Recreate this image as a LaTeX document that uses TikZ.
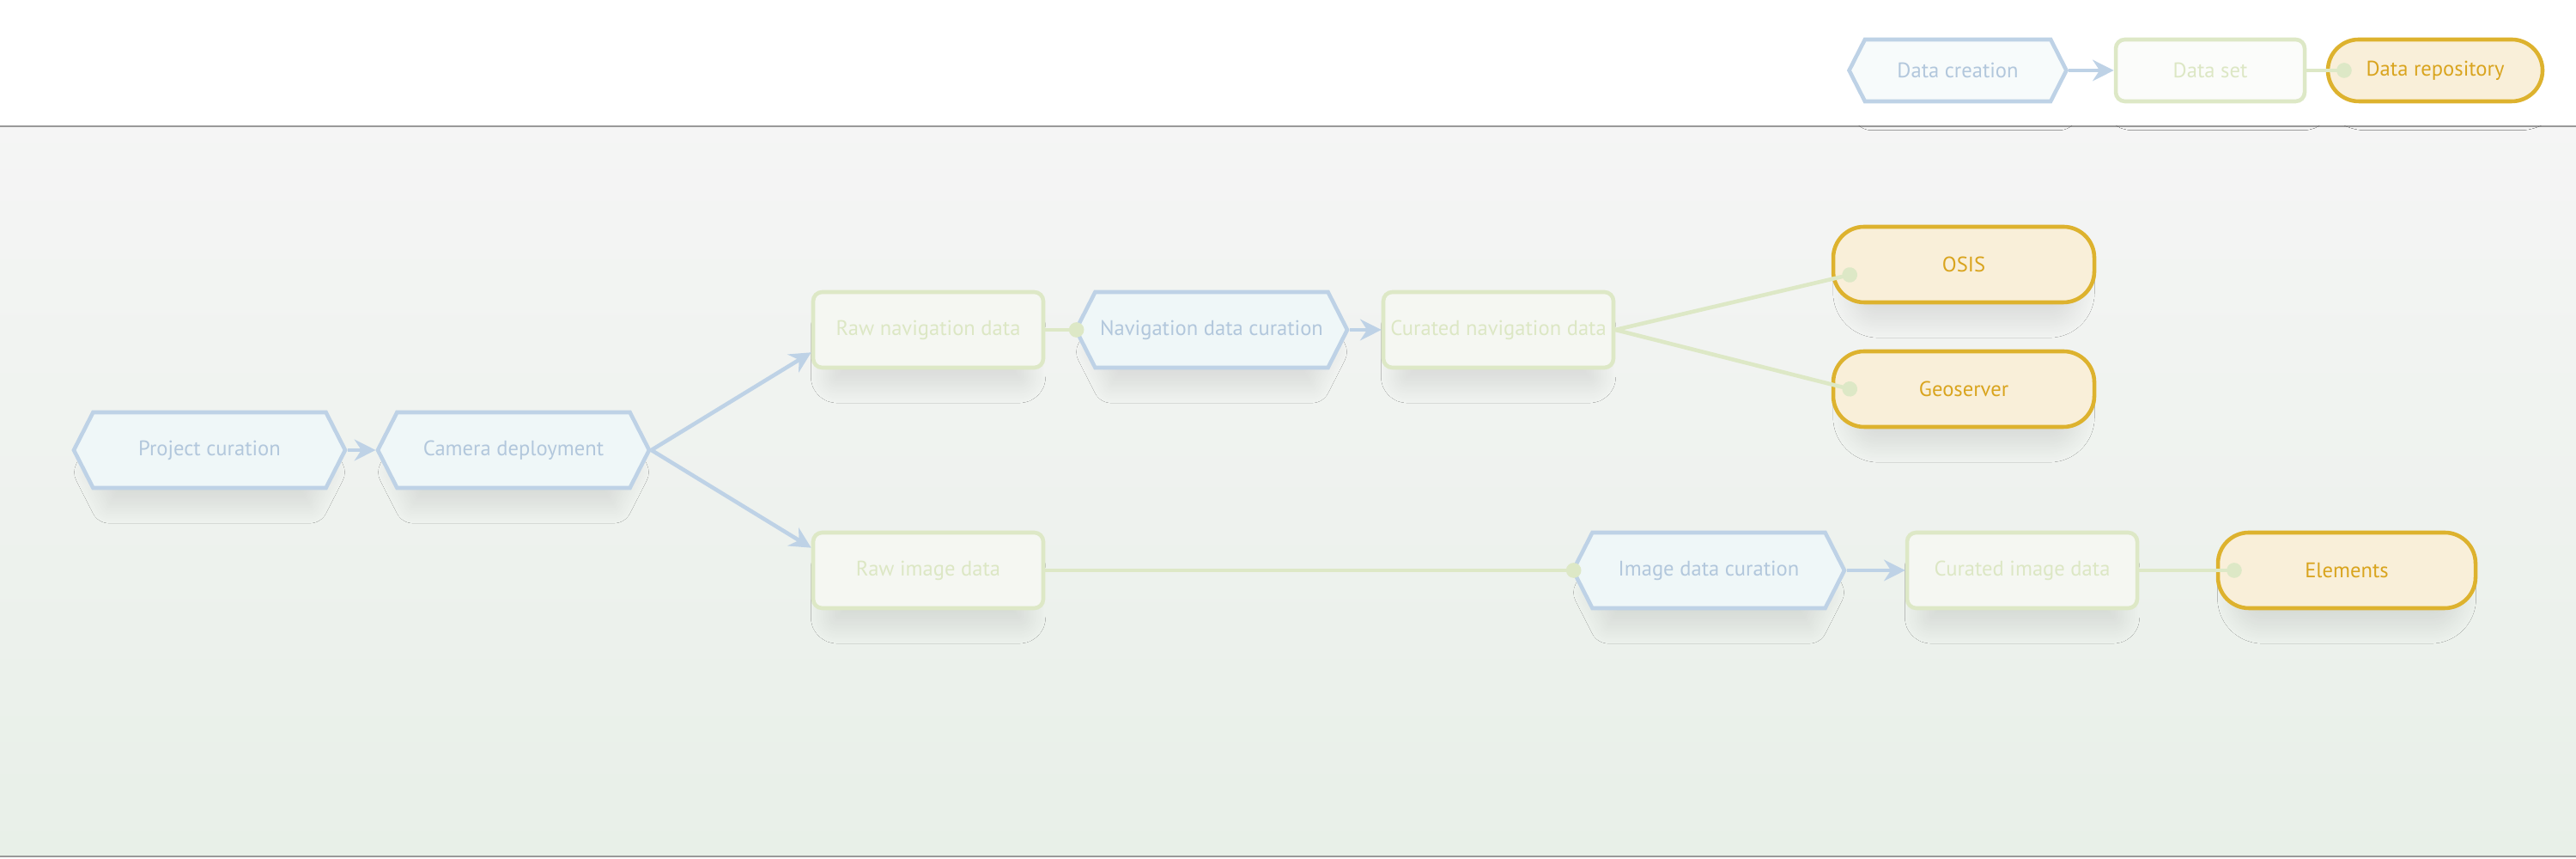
\documentclass[tikz,border=0pt]{standalone}
\usepackage{fontspec}
\setmainfont{PT Sans}
\usetikzlibrary{shapes.symbols,shadows.blur,arrows.meta}

\definecolor{createline}{HTML}{BED2E6}
\definecolor{createfill}{HTML}{EFF7F8}
\definecolor{createtext}{HTML}{B2C7DC}
\definecolor{setline}{HTML}{DDE8C6}
\definecolor{setfill}{HTML}{F5F7F2}
\definecolor{settext}{HTML}{DCE7C4}
\definecolor{repoline}{HTML}{DDB22E}
\definecolor{repofill}{HTML}{F9EFD9}
\definecolor{repotext}{HTML}{D9A41E}

\tikzset{
  base/.style={font=\fontsize{7}{9}\selectfont, inner sep=0pt, line width=1.3pt,
    blur shadow={shadow xshift=0pt, shadow yshift=-0.3cm, shadow opacity=10, shadow scale=0.86,
      shadow blur radius=0.25cm, shadow blur steps=20}},
  creation/.style={base, shape=signal, signal from=nowhere, signal to=east and west, signal pointer angle=126,
    draw=createline, fill=createfill, text=createtext, minimum width=3.16cm, minimum height=0.88cm},
  dataset/.style={base, rectangle, rounded corners=3pt, draw=setline, fill=setfill, text=settext,
    minimum width=2.68cm, minimum height=0.88cm},
  repository/.style={base, rectangle, rounded corners=0.36cm, draw=repoline, fill=repofill, text=repotext,
    minimum width=3.04cm, minimum height=0.88cm},
  legend/.style={blur shadow={shadow opacity=0}, minimum height=0.72cm},
  flow/.style={draw=createline, line width=1.3pt, -{Stealth[length=7pt,width=7pt]}},
  link/.style={draw=setline, line width=1.3pt, -{Circle[length=5pt]}},
}

\begin{document}
\begin{tikzpicture}
    \useasboundingbox (0,0) rectangle (30,10);
    \shade[top color=gray!8, bottom color=green!20!gray!15] (0,0.03) rectangle (30,8.53);
    \draw[gray!80, line width=0.7pt] (0,8.53) -- (30,8.53);
    \draw[gray!80, line width=0.7pt] (0,0.03) -- (30,0.03);

    % legend
    \node[creation, legend, minimum width=2.53cm, fill=white!50!createfill] (lcreate) at (22.8,9.18) {Data creation};
    \node[dataset, legend, minimum width=2.2cm, fill=white!60!setfill] (lset) at (25.74,9.18) {Data set};
    \node[repository, legend, minimum width=2.5cm] (lrepo) at (28.36,9.18) {Data repository};

    % main flow
    \node[creation] (project) at (2.44,4.76) {Project curation};
    \node[creation] (camera) at (5.98,4.76) {Camera deployment};
    \node[dataset] (rawnav) at (10.81,6.16) {Raw navigation data};
    \node[creation] (navcur) at (14.11,6.16) {Navigation data curation};
    \node[dataset] (curnav) at (17.45,6.16) {Curated navigation data};
    \node[repository] (osis) at (22.87,6.92) {OSIS};
    \node[repository] (geo) at (22.87,5.47) {Geoserver};
    \node[dataset] (rawimg) at (10.81,3.36) {Raw image data};
    \node[creation] (imgcur) at (19.9,3.36) {Image data curation};
    \node[dataset] (curimg) at (23.55,3.36) {Curated image data};
    \node[repository, minimum width=3cm] (elements) at (27.33,3.36) {Elements};

    % connectors
    \draw[flow] (lcreate.east) -- (lset.west);
    \draw[link] (lset.east) -- ([xshift=0.3cm]lrepo.west);
    \draw[flow] (project.east) -- (camera.west);
    \draw[flow] (camera.east) -- ([yshift=0.2cm]rawnav.south west);
    \draw[flow] (camera.east) -- ([yshift=-0.2cm]rawimg.north west);
    \draw[link] (rawnav.east) -- ([xshift=0.12cm]navcur.west);
    \draw[flow] (navcur.east) -- (curnav.west);
    \draw[link] (curnav.east) -- ([xshift=0.3cm,yshift=-0.1cm]osis.west);
    \draw[link] (curnav.east) -- ([xshift=0.3cm,yshift=-0.02cm]geo.west);
    \draw[link] (rawimg.east) -- ([xshift=0.12cm]imgcur.west);
    \draw[flow] (imgcur.east) -- (curimg.west);
    \draw[link] (curimg.east) -- ([xshift=0.3cm]elements.west);
\end{tikzpicture}
\end{document}
